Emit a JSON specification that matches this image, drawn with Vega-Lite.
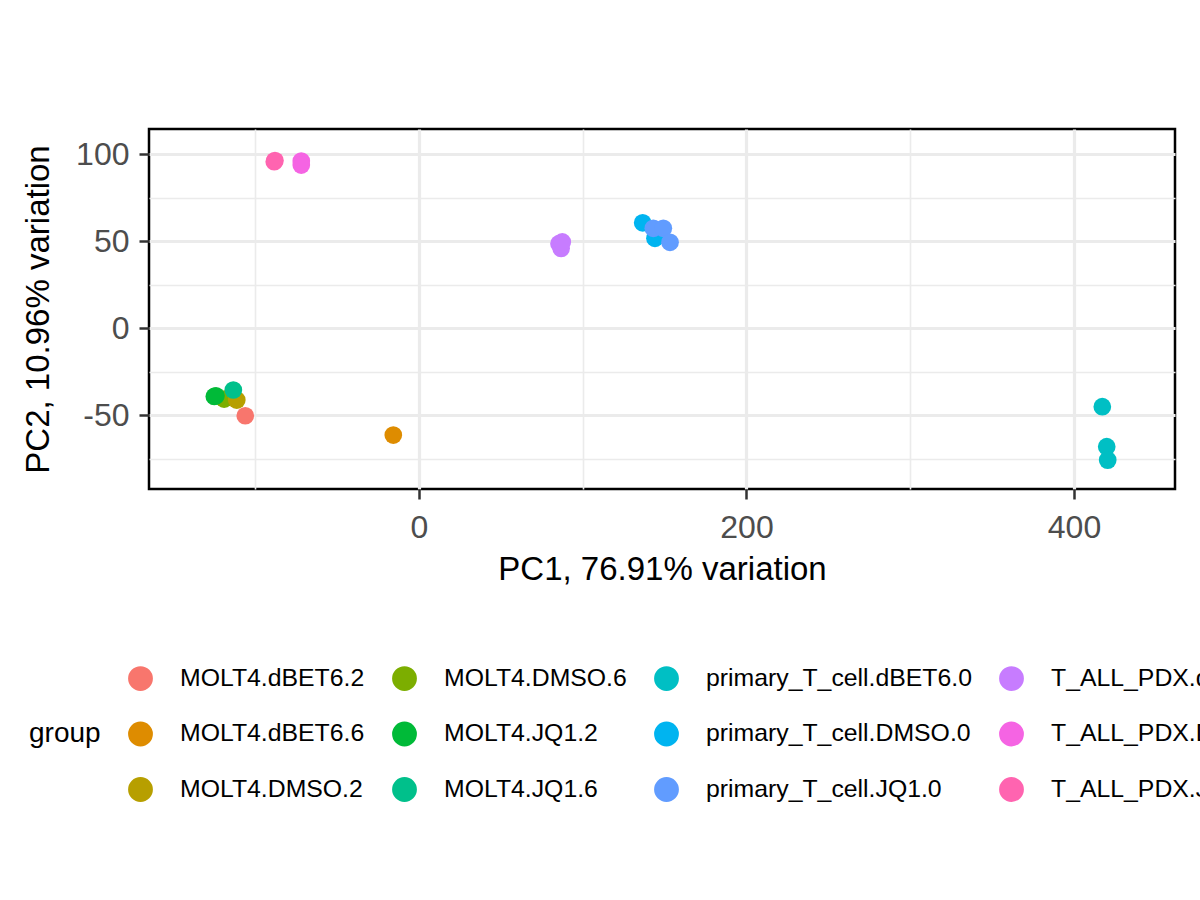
{
  "$schema": "https://vega.github.io/schema/vega-lite/v6.json",
  "width": 1026,
  "height": 360,
  "autosize": {"type": "none"},
  "padding": {"left": 149, "top": 129, "right": 25, "bottom": 411},
  "background": "white",
  "config": {
    "font": "Liberation Sans",
    "view": {"stroke": "#000000", "strokeWidth": 2.5}
  },
  "data": {
    "values": [
      {"group": "MOLT4.DMSO.6", "PC1": -119.0, "PC2": -40.8},
      {"group": "MOLT4.DMSO.2", "PC1": -111.3, "PC2": -41.4},
      {"group": "MOLT4.JQ1.2", "PC1": -124.0, "PC2": -38.9},
      {"group": "MOLT4.JQ1.2", "PC1": -125.0, "PC2": -39.3},
      {"group": "MOLT4.JQ1.6", "PC1": -113.4, "PC2": -35.6},
      {"group": "MOLT4.dBET6.2", "PC1": -106.1, "PC2": -50.4},
      {"group": "MOLT4.dBET6.6", "PC1": -15.7, "PC2": -61.5},
      {"group": "primary_T_cell.dBET6.0", "PC1": 417.3, "PC2": -45.2},
      {"group": "primary_T_cell.dBET6.0", "PC1": 420.0, "PC2": -68.2},
      {"group": "primary_T_cell.dBET6.0", "PC1": 420.6, "PC2": -75.9},
      {"group": "primary_T_cell.DMSO.0", "PC1": 136.6, "PC2": 60.5},
      {"group": "primary_T_cell.DMSO.0", "PC1": 144.1, "PC2": 51.6},
      {"group": "primary_T_cell.JQ1.0", "PC1": 143.1, "PC2": 57.3},
      {"group": "primary_T_cell.JQ1.0", "PC1": 149.2, "PC2": 57.3},
      {"group": "primary_T_cell.JQ1.0", "PC1": 153.3, "PC2": 49.3},
      {"group": "T_ALL_PDX.dBET6.0", "PC1": 85.5, "PC2": 48.5},
      {"group": "T_ALL_PDX.dBET6.0", "PC1": 86.8, "PC2": 45.8},
      {"group": "T_ALL_PDX.dBET6.0", "PC1": 87.5, "PC2": 49.5},
      {"group": "T_ALL_PDX.DMSO.0", "PC1": -71.9, "PC2": 96.0},
      {"group": "T_ALL_PDX.DMSO.0", "PC1": -71.9, "PC2": 93.7},
      {"group": "T_ALL_PDX.JQ1.0", "PC1": -88.4, "PC2": 95.6},
      {"group": "T_ALL_PDX.JQ1.0", "PC1": -88.0, "PC2": 96.3}
    ]
  },
  "mark": {"type": "circle", "size": 314, "opacity": 1},
  "encoding": {
    "x": {
      "field": "PC1",
      "type": "quantitative",
      "scale": {"domain": [-164.9, 461.7], "nice": false, "zero": false},
      "axis": {
        "values": [-100, 0, 100, 200, 300, 400],
        "title": "PC1, 76.91% variation",
        "titleFontSize": 33,
        "titleFontWeight": "normal",
        "titleColor": "#000000",
        "titlePadding": 10,
        "labelFontSize": 32,
        "labelColor": "#4D4D4D",
        "labelPadding": 13,
        "labelFlush": false,
        "labelOverlap": false,
        "labelExpr": "datum.value % 200 === 0 ? '' + datum.value : ''",
        "domain": false,
        "tickColor": "#333333",
        "tickWidth": 2.5,
        "tickSize": 10,
        "tickOpacity": {"condition": {"test": "datum.value % 200 === 0", "value": 1}, "value": 0},
        "gridColor": "#EBEBEB",
        "gridWidth": {"condition": {"test": "datum.value % 200 === 0", "value": 3.2}, "value": 1.6}
      }
    },
    "y": {
      "field": "PC2",
      "type": "quantitative",
      "scale": {"domain": [-92.5, 114.4], "nice": false, "zero": false},
      "axis": {
        "values": [-75, -50, -25, 0, 25, 50, 75, 100],
        "title": "PC2, 10.96% variation",
        "titleFontSize": 33,
        "titleFontWeight": "normal",
        "titleColor": "#000000",
        "titlePadding": 20,
        "labelFontSize": 32,
        "labelColor": "#4D4D4D",
        "labelPadding": 10,
        "labelFlush": false,
        "labelOverlap": false,
        "labelExpr": "datum.value % 50 === 0 ? '' + datum.value : ''",
        "domain": false,
        "tickColor": "#333333",
        "tickWidth": 2.5,
        "tickSize": 10,
        "tickOpacity": {"condition": {"test": "datum.value % 50 === 0", "value": 1}, "value": 0},
        "gridColor": "#EBEBEB",
        "gridWidth": {"condition": {"test": "datum.value % 50 === 0", "value": 3.2}, "value": 1.6}
      }
    },
    "color": {
      "field": "group",
      "type": "nominal",
      "scale": {
        "domain": [
          "MOLT4.dBET6.2", "MOLT4.dBET6.6", "MOLT4.DMSO.2",
          "MOLT4.DMSO.6", "MOLT4.JQ1.2", "MOLT4.JQ1.6",
          "primary_T_cell.dBET6.0", "primary_T_cell.DMSO.0", "primary_T_cell.JQ1.0",
          "T_ALL_PDX.dBET6.0", "T_ALL_PDX.DMSO.0", "T_ALL_PDX.JQ1.0"
        ],
        "range": [
          "#F8766D", "#DE8C00", "#B79F00",
          "#7CAE00", "#00BA38", "#00C08B",
          "#00BFC4", "#00B4F0", "#619CFF",
          "#C77CFF", "#F564E3", "#FF64B0"
        ]
      },
      "legend": {
        "orient": "none",
        "legendX": -120,
        "legendY": 537,
        "padding": 0,
        "columns": 4,
        "title": "group",
        "titleOrient": "left",
        "titleAnchor": "middle",
        "titleBaseline": "middle",
        "titleFontSize": 28,
        "titleFontWeight": "normal",
        "titleColor": "#000000",
        "titlePadding": 27,
        "labelFontSize": 24.8,
        "labelColor": "#000000",
        "labelLimit": 400,
        "labelOffset": 27,
        "columnPadding": 27,
        "rowPadding": 29.5,
        "symbolType": "circle",
        "symbolSize": 616,
        "symbolStrokeWidth": 0,
        "symbolOpacity": 1
      }
    }
  }
}
